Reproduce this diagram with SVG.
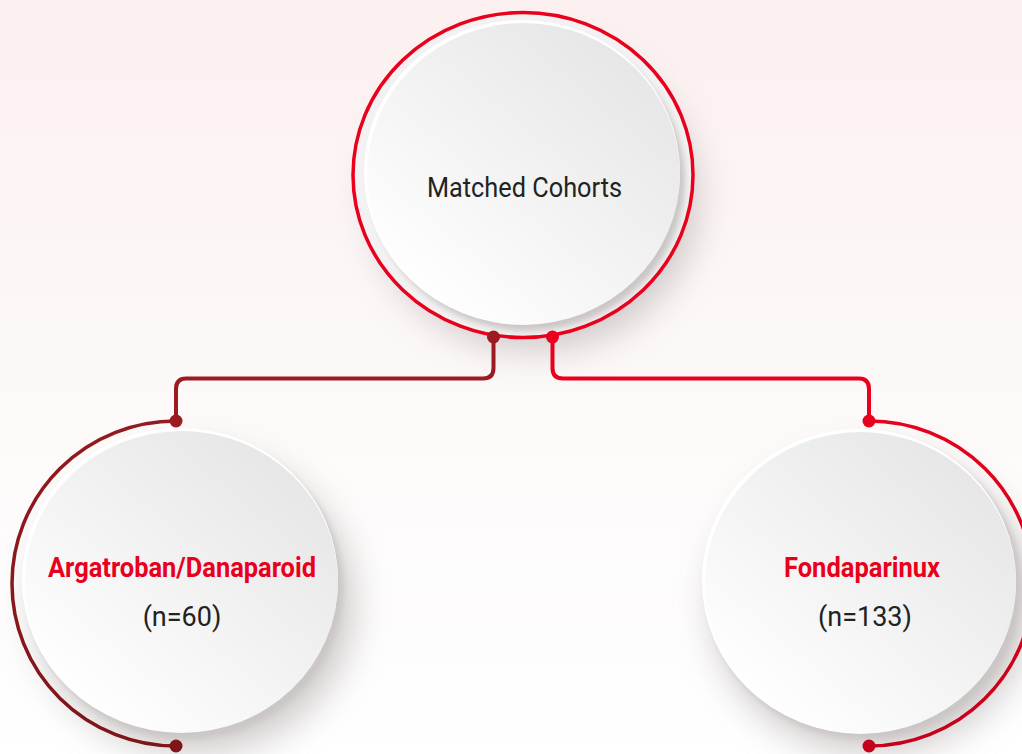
<svg xmlns="http://www.w3.org/2000/svg" width="1022" height="754" viewBox="0 0 1022 754">
  <defs>
    <linearGradient id="bg" x1="0" y1="0" x2="0" y2="1">
      <stop offset="0" stop-color="#FCF0F0"/>
      <stop offset="0.6" stop-color="#FDFAFA"/>
      <stop offset="1" stop-color="#FFFFFF"/>
    </linearGradient>
    <linearGradient id="disc" x1="0.15" y1="0.9" x2="0.85" y2="0.1">
      <stop offset="0" stop-color="#FFFFFF"/>
      <stop offset="1" stop-color="#E6E6E6"/>
    </linearGradient>
    <linearGradient id="redArc" x1="0" y1="0" x2="0" y2="1">
      <stop offset="0" stop-color="#E8001C"/>
      <stop offset="1" stop-color="#C5001A"/>
    </linearGradient>
    <linearGradient id="darkArc" x1="0" y1="0" x2="0" y2="1">
      <stop offset="0" stop-color="#931A1F"/>
      <stop offset="1" stop-color="#7E1519"/>
    </linearGradient>
    <filter id="shadow" x="-40%" y="-40%" width="180%" height="190%">
      <feGaussianBlur stdDeviation="18"/>
    </filter>
    <filter id="innerShade" x="-10%" y="-10%" width="120%" height="120%">
      <feGaussianBlur stdDeviation="3"/>
    </filter>
  </defs>
  <style>
    .ring { fill: none; stroke-width: 3.5; }
    .conn { fill: none; stroke-width: 4; stroke-linejoin: round; stroke-linecap: round; }
    .title { font-family: Roboto, "Liberation Sans", sans-serif; font-size: 27px; fill: #222222; text-anchor: middle; }
    .label { font-family: Roboto, "Liberation Sans", sans-serif; font-size: 27px; font-weight: bold; fill: #E8001C; text-anchor: middle; }
    .count { font-family: Roboto, "Liberation Sans", sans-serif; font-size: 27px; fill: #222222; text-anchor: middle; }
  </style>
  <rect x="0" y="0" width="1022" height="754" fill="url(#bg)"/>

  <g id="node-matched">
    <ellipse cx="535" cy="198" rx="162" ry="152" fill="#B0A8A8" opacity="0.6" filter="url(#shadow)"/>
    <ellipse cx="523" cy="175" rx="170" ry="162.5" fill="#F3F1F1"/>
    <ellipse cx="528" cy="180" rx="157" ry="151" fill="#CBC6C6" filter="url(#innerShade)"/>
    <ellipse cx="522" cy="172" rx="158" ry="152" fill="#FFFFFF"/>
    <ellipse cx="523.5" cy="174" rx="156.5" ry="151" fill="url(#disc)"/>
    <ellipse class="ring" cx="523" cy="175" rx="170" ry="162.5" stroke="#E8001C"/>
    <text class="title" x="524.5" y="197" textLength="195" lengthAdjust="spacingAndGlyphs">Matched Cohorts</text>
  </g>

  <g id="node-argatroban">
    <ellipse cx="194" cy="604" rx="160" ry="150" fill="#B0A8A8" opacity="0.6" filter="url(#shadow)"/>
    <ellipse cx="186" cy="588" rx="157" ry="151" fill="#CBC6C6" filter="url(#innerShade)"/>
    <ellipse cx="180" cy="580" rx="158" ry="152" fill="#FFFFFF"/>
    <ellipse cx="181.5" cy="582" rx="156.5" ry="151" fill="url(#disc)"/>
    <path class="ring" stroke="url(#darkArc)" d="M176,421 A164,162.5 0 0 0 176,746"/>
    <circle cx="176" cy="746" r="6.5" fill="#7E1519"/>
    <text class="label" x="182" y="577" textLength="268" lengthAdjust="spacingAndGlyphs">Argatroban/Danaparoid</text>
    <text class="count" x="182" y="626">(n=60)</text>
  </g>

  <g id="node-fondaparinux">
    <ellipse cx="872" cy="604" rx="160" ry="150" fill="#B0A8A8" opacity="0.6" filter="url(#shadow)"/>
    <ellipse cx="865" cy="588" rx="157" ry="151" fill="#CBC6C6" filter="url(#innerShade)"/>
    <ellipse cx="859" cy="581" rx="157" ry="152" fill="#FFFFFF"/>
    <ellipse cx="860.5" cy="583" rx="155.5" ry="151" fill="url(#disc)"/>
    <path class="ring" stroke="url(#redArc)" d="M869,421 A164,162.5 0 0 1 869,746"/>
    <circle cx="869" cy="746" r="6.5" fill="#C5001A"/>
    <text class="label" x="862" y="577" textLength="156" lengthAdjust="spacingAndGlyphs">Fondaparinux</text>
    <text class="count" x="865" y="626">(n=133)</text>
  </g>

  <g id="connectors">
    <path class="conn" stroke="#9B1B20" d="M493.5,337 V368 Q493.5,378.5 483,378.5 H186 Q176,378.5 176,389 V421"/>
    <path class="conn" stroke="#E8001C" d="M552.5,337 V368 Q552.5,378.5 563,378.5 H859 Q869,378.5 869,389 V421"/>
    <circle cx="493.5" cy="337" r="6.5" fill="#9B1B20"/>
    <circle cx="552.5" cy="337" r="6.5" fill="#E8001C"/>
    <circle cx="176" cy="421" r="6.5" fill="#9B1B20"/>
    <circle cx="869" cy="421" r="6.5" fill="#E8001C"/>
  </g>
</svg>
